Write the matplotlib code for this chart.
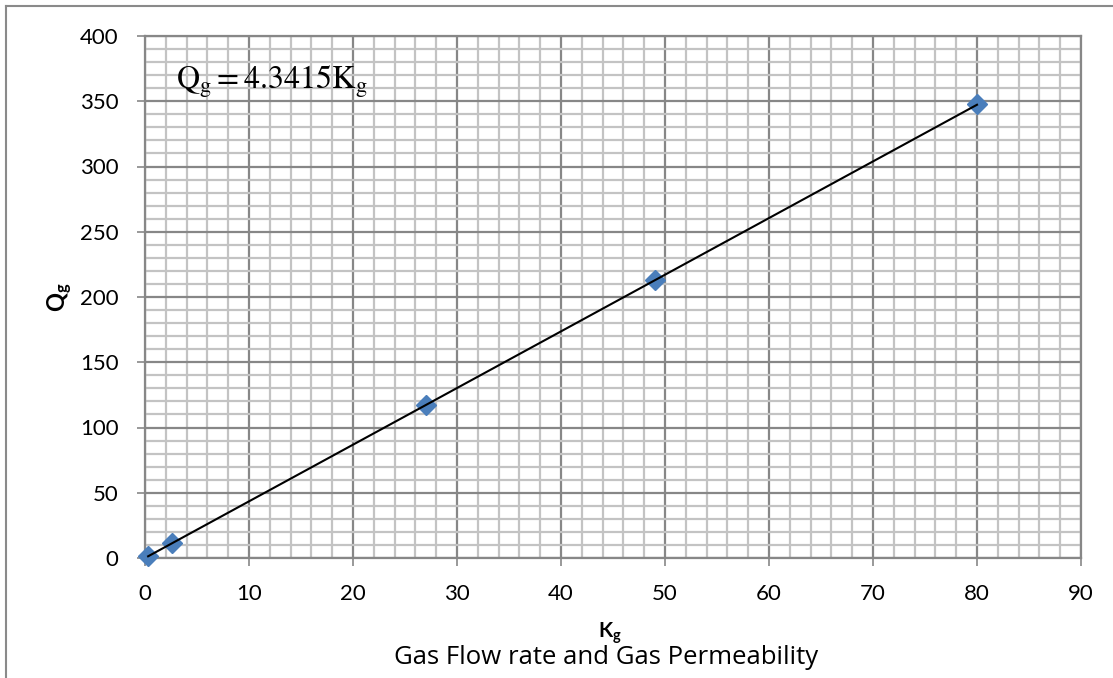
import matplotlib
matplotlib.use("Agg")
import matplotlib.pyplot as plt
from matplotlib.ticker import MultipleLocator
from matplotlib.lines import Line2D

# Measured gas permeability vs. gas flow rate
perm_kg = [0.3, 2.6, 27.0, 49.0, 80.0]
flow_qg = [1.5, 11.3, 117.0, 213.0, 348.0]
slope = 4.3415  # zero-intercept linear fit

x_ticks = [0, 10, 20, 30, 40, 50, 60, 70, 80, 90]
y_ticks = [0, 50, 100, 150, 200, 250, 300, 350, 400]

plt.rcParams['font.family'] = ['Lato', 'DejaVu Sans']
plt.rcParams['mathtext.fontset'] = 'custom'
plt.rcParams['mathtext.rm'] = 'Lato'
plt.rcParams['mathtext.bf'] = 'Lato:bold'

W, H, DPI = 1113, 678, 100
fig = plt.figure(figsize=(W / DPI, H / DPI), dpi=DPI)
ax = fig.add_axes([145 / W, 1 - 558 / H, (1081 - 145) / W, (558 - 36) / H])

major_c = '#878787'
minor_c = '#c3c3c3'

ax.set_xlim(x_ticks[0], x_ticks[-1])
ax.set_ylim(y_ticks[0], y_ticks[-1])
ax.set_xticks(x_ticks)
ax.set_yticks(y_ticks)
ax.xaxis.set_minor_locator(MultipleLocator(2))
ax.yaxis.set_minor_locator(MultipleLocator(10))
ax.grid(which='minor', color=minor_c, lw=1.6)
ax.grid(which='major', color=major_c, lw=1.6)
ax.set_axisbelow(True)
for s in ax.spines.values():
    s.set_color(major_c)
    s.set_linewidth(1.6)
ax.tick_params(which='major', direction='out', length=6, width=1.2,
               color=major_c, labelsize=16, pad=13)
ax.tick_params(which='minor', length=0)

# trendline through the data range
fit_x = [min(perm_kg), max(perm_kg)]
fit_y = [slope * v for v in fit_x]
ax.plot(perm_kg, flow_qg, linestyle='none', marker='D', markersize=10,
        color='#4a7ebb', zorder=4, clip_on=False)
ax.plot(fit_x, fit_y, color='black', lw=1.5, zorder=5, clip_on=False)

ax.text(3.0, 365, r'$\mathrm{Q_g = 4.3415K_g}$', fontsize=23,
        math_fontfamily='stix', ha='left', va='center')

fig.text(60 / W, 1 - 297 / H, r'$\mathbf{Q_g}$', rotation=90,
         fontsize=17, ha='center', va='center')
fig.text(610 / W, 1 - 633 / H, r'$\mathbf{K_g}$', fontsize=15,
         ha='center', va='center')
fig.text(606 / W, 1 - 658 / H, 'Gas Flow rate and Gas Permeability',
         fontsize=18.5, family=['Open Sans', 'DejaVu Sans'],
         ha='center', va='center')

# chart frame
fig.add_artist(Line2D([5.5 / W, 5.5 / W], [0, 1 - 6 / H],
                      transform=fig.transFigure, color='#8a8a8a', lw=1.5))
fig.add_artist(Line2D([5.5 / W, 1], [1 - 6 / H, 1 - 6 / H],
                      transform=fig.transFigure, color='#8a8a8a', lw=1.5))

fig.savefig('out.png', dpi=DPI)
